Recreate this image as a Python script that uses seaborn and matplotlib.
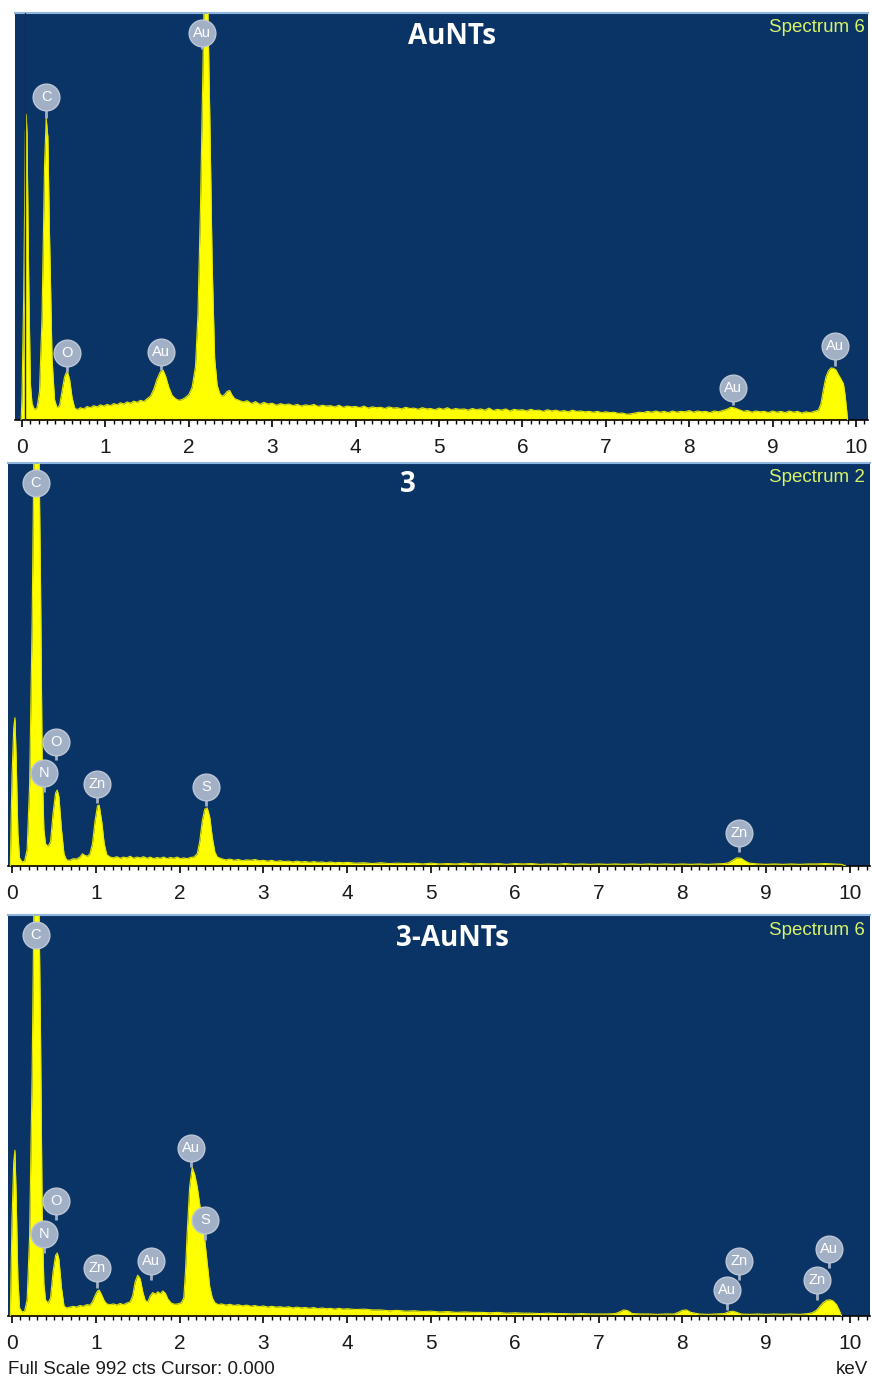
import numpy as np
import matplotlib
matplotlib.use("Agg")
import matplotlib.pyplot as plt
from matplotlib.ticker import MultipleLocator
import seaborn as sns

# ---------------- data (energy keV, counts; full scale 992 cts) ----------------
FULL_SCALE = 992

spec_aunts = [
    (-0.01, 0), (0.0, 60), (0.02, 300), (0.04, 700), (0.05, 745), (0.06, 700), (0.08, 350),
    (0.10, 90), (0.12, 40), (0.15, 25), (0.18, 30), (0.21, 70), (0.24, 250), (0.27, 620),
    (0.29, 735), (0.31, 690), (0.33, 450), (0.36, 150), (0.39, 50), (0.42, 30), (0.45, 35),
    (0.48, 70), (0.51, 105), (0.54, 120), (0.57, 100), (0.60, 55), (0.63, 30), (0.66, 25),
    (0.70, 30), (0.74, 27), (0.78, 33), (0.82, 30), (0.86, 35), (0.90, 32), (0.94, 37),
    (0.98, 34), (1.02, 38), (1.06, 35), (1.10, 40), (1.14, 37), (1.18, 42), (1.22, 39),
    (1.26, 44), (1.30, 41), (1.34, 46), (1.38, 43), (1.42, 48), (1.46, 45), (1.50, 52),
    (1.54, 58), (1.58, 75), (1.62, 100), (1.66, 118), (1.69, 122), (1.72, 108), (1.76, 80),
    (1.80, 60), (1.84, 52), (1.88, 48), (1.92, 50), (1.96, 55), (2.00, 62), (2.04, 80),
    (2.08, 130), (2.11, 260), (2.14, 520), (2.17, 860), (2.19, 1100), (2.22, 1100),
    (2.25, 760), (2.28, 380), (2.31, 150), (2.34, 85), (2.37, 65), (2.40, 58), (2.43, 62),
    (2.46, 70), (2.49, 72), (2.52, 60), (2.55, 52),
    (2.60, 48), (2.65, 44), (2.70, 47), (2.75, 40), (2.80, 45), (2.85, 38), (2.90, 43),
    (2.95, 39), (3.00, 41), (3.05, 36), (3.10, 40), (3.15, 37), (3.20, 39), (3.25, 35),
    (3.30, 38), (3.35, 34), (3.40, 37), (3.45, 35), (3.50, 38), (3.55, 33), (3.60, 36),
    (3.65, 34), (3.70, 35), (3.75, 32), (3.80, 36), (3.85, 31), (3.90, 34), (3.95, 32),
    (4.00, 33), (4.05, 30), (4.10, 34), (4.15, 29), (4.20, 32), (4.25, 30), (4.30, 31),
    (4.35, 28), (4.40, 32), (4.45, 29), (4.50, 30), (4.55, 27), (4.60, 31), (4.65, 28),
    (4.70, 29), (4.75, 26), (4.80, 30), (4.85, 27), (4.90, 28), (4.95, 25), (5.00, 29),
    (5.05, 26), (5.10, 30), (5.15, 25), (5.20, 28), (5.25, 26), (5.30, 27), (5.35, 24),
    (5.40, 28), (5.45, 25), (5.50, 27), (5.55, 24), (5.60, 29), (5.65, 23), (5.70, 26),
    (5.75, 24), (5.80, 27), (5.85, 22), (5.90, 26), (5.95, 24), (6.00, 25), (6.05, 22),
    (6.10, 26), (6.15, 23), (6.20, 24), (6.25, 21), (6.30, 25), (6.35, 22), (6.40, 24),
    (6.45, 21), (6.50, 23), (6.55, 20), (6.60, 24), (6.65, 21), (6.70, 22), (6.75, 20),
    (6.80, 21), (6.85, 19), (6.90, 21), (6.95, 18), (7.00, 20), (7.05, 18), (7.10, 19),
    (7.15, 16), (7.20, 17), (7.25, 14), (7.30, 15), (7.35, 17), (7.40, 19), (7.45, 18),
    (7.50, 21), (7.55, 19), (7.60, 22), (7.65, 19), (7.70, 21), (7.75, 18), (7.80, 22),
    (7.85, 19), (7.90, 21), (7.95, 20), (8.00, 23), (8.05, 19), (8.10, 22), (8.15, 20),
    (8.20, 21), (8.25, 18), (8.30, 22), (8.35, 20), (8.40, 23), (8.45, 26), (8.50, 31),
    (8.55, 29), (8.60, 25), (8.65, 21), (8.70, 23), (8.75, 19), (8.80, 22), (8.85, 20),
    (8.90, 21), (8.95, 18), (9.00, 22), (9.05, 19), (9.10, 21), (9.15, 18), (9.20, 22),
    (9.25, 19), (9.30, 21), (9.35, 17), (9.40, 20), (9.45, 18), (9.50, 21), (9.55, 24),
    (9.58, 40), (9.61, 75), (9.64, 105), (9.67, 120), (9.70, 127), (9.73, 126), (9.76, 122),
    (9.79, 110), (9.82, 100), (9.85, 88), (9.87, 60), (9.89, 20), (9.90, 0),
]

spec_3 = [
    (-0.02, 0), (-0.01, 120), (0.0, 220), (0.02, 340), (0.035, 365), (0.05, 260), (0.07, 80),
    (0.09, 20), (0.12, 10), (0.15, 12), (0.18, 40), (0.21, 200), (0.24, 600), (0.26, 1000),
    (0.29, 1100), (0.32, 1050), (0.34, 700), (0.36, 250), (0.38, 90), (0.40, 55), (0.43, 48),
    (0.46, 60), (0.49, 130), (0.52, 180), (0.54, 187), (0.56, 170), (0.59, 90), (0.62, 30),
    (0.65, 15), (0.69, 14), (0.73, 18), (0.77, 17), (0.81, 22), (0.84, 30), (0.87, 26),
    (0.90, 24), (0.93, 30), (0.96, 55), (0.99, 110), (1.02, 148), (1.04, 150), (1.07, 110),
    (1.10, 55), (1.13, 28), (1.17, 22), (1.21, 20), (1.25, 23), (1.29, 19), (1.33, 22),
    (1.37, 20), (1.41, 24), (1.45, 19), (1.49, 22), (1.53, 20), (1.57, 23), (1.61, 19),
    (1.65, 22), (1.69, 18), (1.73, 21), (1.77, 19), (1.81, 22), (1.85, 18), (1.89, 21),
    (1.93, 19), (1.97, 22), (2.01, 18), (2.05, 20), (2.09, 18), (2.13, 21), (2.17, 22),
    (2.21, 30), (2.24, 60), (2.27, 110), (2.30, 140), (2.33, 143), (2.36, 120), (2.39, 70),
    (2.42, 35), (2.45, 22), (2.50, 18), (2.55, 15), (2.60, 17), (2.65, 14), (2.70, 16),
    (2.75, 13), (2.80, 15), (2.85, 14), (2.90, 16), (2.95, 13), (3.00, 14), (3.05, 12),
    (3.10, 14), (3.15, 11), (3.20, 13), (3.25, 11), (3.30, 12), (3.35, 10), (3.40, 12),
    (3.45, 10), (3.50, 11), (3.55, 9), (3.60, 11), (3.65, 9), (3.70, 10), (3.75, 8),
    (3.80, 10), (3.85, 8), (3.90, 9), (3.95, 8), (4.00, 9), (4.10, 7), (4.20, 8), (4.30, 6),
    (4.40, 8), (4.50, 6), (4.60, 7), (4.70, 6), (4.80, 7), (4.90, 5), (5.00, 7), (5.10, 5),
    (5.20, 6), (5.30, 5), (5.40, 7), (5.50, 5), (5.60, 6), (5.70, 5), (5.80, 6), (5.90, 4),
    (6.00, 6), (6.10, 5), (6.20, 6), (6.30, 4), (6.40, 5), (6.50, 4), (6.60, 6), (6.70, 4),
    (6.80, 5), (6.90, 4), (7.00, 5), (7.10, 4), (7.20, 5), (7.30, 4), (7.40, 5), (7.50, 4),
    (7.60, 5), (7.70, 4), (7.80, 5), (7.90, 4), (8.00, 5), (8.10, 4), (8.20, 5), (8.30, 4),
    (8.40, 5), (8.50, 6), (8.55, 8), (8.60, 14), (8.65, 20), (8.70, 19), (8.75, 12),
    (8.80, 7), (8.90, 5), (9.00, 4), (9.10, 5), (9.20, 4), (9.30, 5), (9.40, 4), (9.50, 5),
    (9.60, 5), (9.70, 6), (9.80, 5), (9.90, 4), (9.95, 0),
]

spec_3_aunts = [
    (-0.02, 0), (-0.01, 130), (0.0, 240), (0.02, 380), (0.035, 410), (0.05, 290), (0.07, 90),
    (0.09, 20), (0.12, 10), (0.15, 12), (0.18, 40), (0.21, 200), (0.24, 600), (0.26, 1000),
    (0.29, 1100), (0.32, 1050), (0.34, 700), (0.36, 250), (0.38, 80), (0.40, 40), (0.43, 32),
    (0.46, 45), (0.49, 110), (0.52, 150), (0.54, 156), (0.56, 140), (0.59, 70), (0.62, 25),
    (0.65, 20), (0.69, 22), (0.73, 24), (0.77, 22), (0.81, 26), (0.85, 24), (0.89, 28),
    (0.93, 27), (0.96, 35), (0.99, 50), (1.02, 62), (1.04, 64), (1.07, 52), (1.10, 38),
    (1.13, 30), (1.17, 28), (1.21, 30), (1.25, 27), (1.29, 31), (1.33, 28), (1.37, 32),
    (1.41, 35), (1.44, 50), (1.47, 85), (1.50, 101), (1.53, 92), (1.56, 60), (1.59, 38),
    (1.62, 35), (1.65, 50), (1.68, 58), (1.71, 54), (1.74, 60), (1.77, 55), (1.80, 62),
    (1.83, 56), (1.86, 42), (1.90, 32), (1.94, 29), (1.98, 30), (2.02, 33), (2.05, 45),
    (2.07, 110), (2.09, 205), (2.12, 320), (2.15, 368), (2.18, 350), (2.21, 320), (2.25, 262),
    (2.28, 230), (2.30, 188), (2.33, 130), (2.36, 72), (2.39, 45), (2.42, 33), (2.46, 28),
    (2.50, 30), (2.55, 27), (2.60, 29), (2.65, 26), (2.70, 28), (2.75, 25), (2.80, 27),
    (2.85, 24), (2.90, 26), (2.95, 23), (3.00, 25), (3.05, 22), (3.10, 24), (3.15, 22),
    (3.20, 23), (3.25, 21), (3.30, 23), (3.35, 20), (3.40, 22), (3.45, 20), (3.50, 21),
    (3.55, 19), (3.60, 21), (3.65, 18), (3.70, 20), (3.75, 18), (3.80, 19), (3.85, 17),
    (3.90, 19), (3.95, 17), (4.00, 18), (4.10, 16), (4.20, 17), (4.30, 15), (4.40, 15),
    (4.50, 13), (4.60, 14), (4.70, 12), (4.80, 13), (4.90, 11), (5.00, 12), (5.10, 10),
    (5.20, 11), (5.30, 9), (5.40, 10), (5.50, 9), (5.60, 9), (5.70, 8), (5.80, 9), (5.90, 7),
    (6.00, 8), (6.10, 7), (6.20, 7), (6.30, 6), (6.40, 7), (6.50, 6), (6.60, 6), (6.70, 5),
    (6.80, 6), (6.90, 5), (7.00, 5), (7.10, 5), (7.20, 6), (7.25, 10), (7.30, 15), (7.35, 13),
    (7.40, 6), (7.50, 5), (7.60, 5), (7.70, 4), (7.80, 5), (7.90, 5), (7.95, 9), (8.00, 14),
    (8.05, 15), (8.10, 9), (8.20, 5), (8.30, 4), (8.40, 5), (8.50, 6), (8.55, 10), (8.60, 12),
    (8.65, 9), (8.70, 5), (8.80, 4), (8.90, 5), (9.00, 4), (9.10, 5), (9.20, 4), (9.30, 5),
    (9.40, 4), (9.50, 6), (9.55, 8), (9.60, 14), (9.64, 24), (9.68, 33), (9.72, 39),
    (9.76, 40), (9.80, 37), (9.84, 28), (9.87, 15), (9.90, 0),
]

# peak labels: (element, energy keV, label centre cts, stem end cts)
labels_aunts = [("Au", 2.16, 943, 905), ("C", 0.288, 787, 736), ("Au", 9.75, 180, 132),
                ("Au", 1.67, 166, 122), ("O", 0.54, 163, 117), ("Au", 8.53, 78, 37)]
labels_3 = [("C", 0.286, 943, 943), ("O", 0.525, 305, 261), ("N", 0.38, 229, 182),
            ("Zn", 1.014, 202, 155), ("S", 2.315, 194, 148), ("Zn", 8.675, 81, 34)]
labels_3_aunts = [("C", 0.286, 943, 943), ("Au", 2.136, 416, 369), ("O", 0.525, 284, 237),
                  ("S", 2.303, 237, 188), ("N", 0.38, 203, 156), ("Au", 1.66, 136, 89),
                  ("Zn", 8.675, 136, 89), ("Zn", 1.014, 119, 69), ("Au", 9.75, 166, 119),
                  ("Zn", 9.61, 89, 40), ("Au", 8.53, 64, 15)]

titles = ["AuNTs", "3", "3-AuNTs"]
spectrum_names = ["Spectrum 6", "Spectrum 2", "Spectrum 6"]
xticks = list(range(0, 11))

# ---------------- styling ----------------
sns.set_style("white")
plt.rcParams["font.family"] = ["Liberation Sans", "DejaVu Sans"]

NAVY = "#0b3466"
YELLOW = "#ffff00"
LABEL_GREY = "#a2b0c6"

W, H = 872, 1383
fig = plt.figure(figsize=(W / 100, H / 100), dpi=100, facecolor="white")

# panel geometry in pixels: left, right, top, bottom, xlim
panels = [
    (15, 868, 13, 420, (-0.084, 10.144)),
    (8, 870, 463, 866, (-0.048, 10.239)),
    (8, 870, 915, 1316, (-0.048, 10.239)),
]
title_pos = [(452, 37), (408, 485), (452, 938)]
specs = [spec_aunts, spec_3, spec_3_aunts]
label_sets = [labels_aunts, labels_3, labels_3_aunts]

for i, (l, r, t, b, xl) in enumerate(panels):
    ax = fig.add_axes([l / W, 1 - b / H, (r - l) / W, (b - t) / H])
    ax.set_facecolor(NAVY)
    e = np.array([p[0] for p in specs[i]])
    c = np.array([p[1] for p in specs[i]])
    ax.fill_between(e, 0, c, color=YELLOW, lw=0, zorder=2)
    sns.lineplot(x=e, y=c, ax=ax, color="#e6e600", lw=0.8, estimator=None, sort=False, zorder=3)
    if i == 0:
        ax.axvline(0.035, color="#20264a", lw=1.0, zorder=4)
    ax.set_xlim(*xl)
    ax.set_ylim(0, FULL_SCALE)
    ax.set_yticks([])
    ax.set_xticks(xticks)
    ax.set_xticklabels([str(v) for v in xticks])
    ax.xaxis.set_minor_locator(MultipleLocator(0.1))
    ax.tick_params(axis="x", which="major", direction="out", length=5, width=1.2,
                   color="black", labelsize=15, pad=8, labelcolor="#1a1a1a", bottom=True)
    ax.tick_params(axis="x", which="minor", direction="out", length=3, width=1.0,
                   color="black", bottom=True)
    for s in ["left", "right"]:
        ax.spines[s].set_visible(False)
    ax.spines["bottom"].set_color("black")
    ax.spines["bottom"].set_linewidth(1.2)
    ax.spines["top"].set_color("#8fb6e0")
    ax.spines["top"].set_linewidth(1.5)
    ax.set_xlabel("")
    ax.set_ylabel("")

    # peak labels: draw higher labels first so lower ones sit in front
    for k, (el, en, yc, ys) in enumerate(sorted(label_sets[i], key=lambda z: -z[2])):
        zo = 5 + k * 0.1
        ax.plot([en, en], [yc, ys], color=LABEL_GREY, lw=2, zorder=zo, solid_capstyle="butt")
        ax.scatter([en], [yc], s=370, color=LABEL_GREY, edgecolor="#bcc6d6", linewidth=1,
                   zorder=zo + 0.01, clip_on=False)
        ax.text(en, yc, el, color="white", fontsize=10.5, ha="center", va="center",
                zorder=zo + 0.02)

    tx, ty = title_pos[i]
    ax.text((tx - l) / (r - l), 1 - (ty - t) / (b - t), titles[i], transform=ax.transAxes,
            color="white", fontsize=20, fontweight="bold", family=["Open Sans", "DejaVu Sans"],
            ha="center", va="center", zorder=10)
    ax.text((865 - l) / (r - l), 1 - 15 / (b - t), spectrum_names[i], transform=ax.transAxes,
            color="#d8f36a", fontsize=13.5, ha="right", va="center", zorder=10)

fig.text(8 / W, 1 - 1370 / H, "Full Scale 992 cts Cursor: 0.000", fontsize=13.5,
         color="#1a1a1a", ha="left", va="center")
fig.text(868 / W, 1 - 1370 / H, "keV", fontsize=13.5, color="#1a1a1a", ha="right", va="center")

fig.savefig("out.png", dpi=100, facecolor="white")
